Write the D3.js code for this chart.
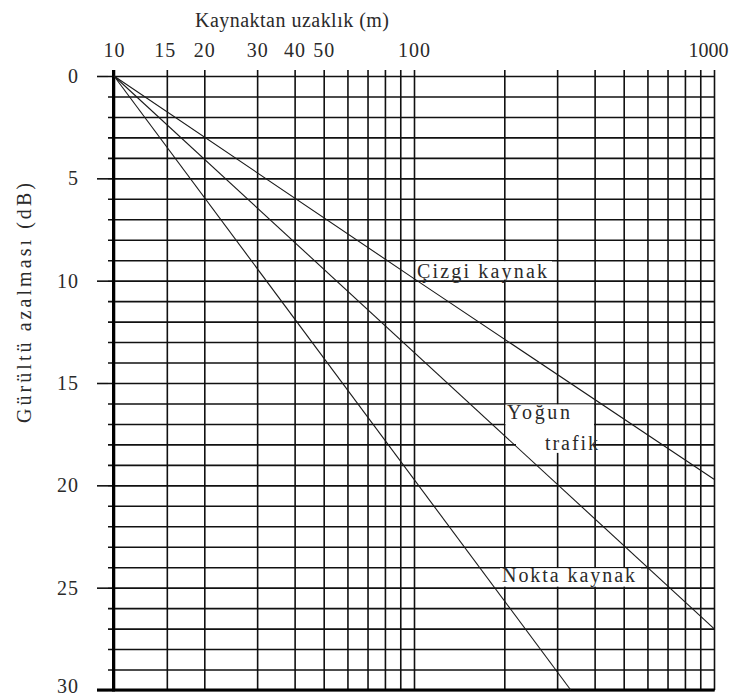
<!DOCTYPE html>
<html>
<head>
<meta charset="utf-8">
<script src="https://cdn.jsdelivr.net/npm/d3@7"></script>
<style>
  html, body { margin: 0; padding: 0; background: #fff; }
  svg { display: block; }
</style>
</head>
<body>
<svg id="chart" width="730" height="699"></svg>
<script>
// Distance (m) grid values on the logarithmic axis and the ones that carry labels
const xGrid = [10, 15, 20, 30, 40, 50, 60, 70, 80, 90, 100,
               200, 300, 400, 500, 600, 700, 800, 900, 1000];
const xTickLabels = [10, 15, 20, 30, 40, 50, 100, 1000];

// Attenuation (dB) grid: one line per dB, labelled every 5 dB
const yGrid = d3.range(0, 31);
const yTickLabels = [0, 5, 10, 15, 20, 25, 30];

// Attenuation curves: [distance m, attenuation dB]
const lineSource   = [[10, 0], [100, 9.9], [1000, 19.7]];  // Çizgi kaynak
const heavyTraffic = [[10, 0], [1000, 27]];                // Yoğun trafik
const pointSource  = [[10, 0], [333, 30]];                 // Nokta kaynak

const FONT = "'Liberation Serif', 'DejaVu Serif', serif";
const INK = "#2a2a2a";

const svg = d3.select("#chart");

const x = d3.scaleLog().domain([10, 1000]).range([114, 714]);
const y = d3.scaleLinear().domain([0, 30]).range([76, 690]);

const frameTop = 70, frameBottom = 690, frameLeft = 113.5, frameRight = 714;

// Vertical grid lines and top distance labels
const gx = svg.append("g")
  .attr("transform", `translate(0,${frameTop})`)
  .call(d3.axisTop(x)
    .tickValues(xGrid)
    .tickSize(-(frameBottom - frameTop))
    .tickPadding(13)
    .tickFormat(d => xTickLabels.includes(d) ? d : ""));
gx.select(".domain").remove();
gx.selectAll(".tick line").attr("stroke", "#111").attr("stroke-width", 1.6);
gx.selectAll(".tick text")
  .attr("font-size", 20).attr("fill", INK).attr("font-family", FONT)
  .attr("letter-spacing", d => d === 1000 ? 0 : 1)
  .attr("dx", d => d === 1000 ? -6 : (d === 15 ? -2 : 0));

// Horizontal grid lines, one per dB (short tick to the left of the frame)
const gyMinor = svg.append("g")
  .attr("transform", "translate(108,0)")
  .call(d3.axisLeft(y)
    .tickValues(yGrid)
    .tickSize(-(frameRight - 108))
    .tickFormat(""));
gyMinor.select(".domain").remove();
gyMinor.selectAll(".tick line").attr("stroke", "#111").attr("stroke-width", 1.6);

// Longer ticks and labels every 5 dB
const gyMajor = svg.append("g")
  .attr("transform", "translate(108,0)")
  .call(d3.axisLeft(y)
    .tickValues(yTickLabels)
    .tickSize(11)
    .tickPadding(18));
gyMajor.select(".domain").remove();
gyMajor.selectAll(".tick line").attr("stroke", "#111").attr("stroke-width", 1.6);
gyMajor.selectAll(".tick text")
  .attr("font-size", 20).attr("fill", INK).attr("font-family", FONT)
  .attr("letter-spacing", 1)
  .attr("dy", d => d === 30 ? "0.12em" : "0.32em");

// Heavy left and bottom frame lines
svg.append("line")
  .attr("x1", frameLeft).attr("x2", frameLeft).attr("y1", frameTop).attr("y2", frameBottom + 1.5)
  .attr("stroke", "#000").attr("stroke-width", 3);
svg.append("line")
  .attr("x1", 97).attr("x2", frameRight + 0.8).attr("y1", y(30)).attr("y2", y(30))
  .attr("stroke", "#000").attr("stroke-width", 3);

// White backgrounds behind the curve labels
const boxes = svg.append("g").attr("fill", "#fff");
boxes.append("rect").attr("x", 416).attr("y", y(9) + 1).attr("width", 136).attr("height", y(10) - y(9) - 2);
boxes.append("rect").attr("x", 500).attr("y", y(24) + 1).attr("width", 141).attr("height", y(25) - y(24) - 2);
boxes.append("rect").attr("x", 505.5).attr("y", y(16) + 1).attr("width", 88.5).attr("height", y(17) - y(16) - 1);
boxes.append("rect").attr("x", 505.5).attr("y", y(17) - 1).attr("width", 88.5).attr("height", y(18) - y(17));
boxes.append("rect").attr("x", 516).attr("y", y(18) - 1.5).attr("width", 78).attr("height", 10);

// Attenuation curves
const line = d3.line().x(d => x(d[0])).y(d => y(d[1]));
const curves = svg.append("g").attr("fill", "none").attr("stroke", "#1a1a1a").attr("stroke-width", 1.1);
[lineSource, heavyTraffic, pointSource].forEach(s => curves.append("path").attr("d", line(s)));

// Curve labels
const label = (t, tx, ty, len) => svg.append("text")
  .attr("x", tx).attr("y", ty).attr("font-size", 20).attr("fill", INK)
  .attr("font-family", FONT)
  .attr("textLength", len).attr("lengthAdjust", "spacing").text(t);
label("Çizgi kaynak", 417, 278, 130);
label("Yoğun", 507, 419, 63);
label("trafik", 545, 450, 53);
label("Nokta kaynak", 502, 582, 133);

// Axis titles
svg.append("text")
  .attr("x", 195).attr("y", 27).attr("font-size", 20).attr("fill", INK)
  .attr("font-family", FONT)
  .attr("textLength", 194).attr("lengthAdjust", "spacing")
  .text("Kaynaktan uzaklık (m)");
svg.append("text")
  .attr("transform", "translate(31,423) rotate(-90)")
  .attr("font-size", 20).attr("fill", INK)
  .attr("font-family", FONT)
  .attr("textLength", 240).attr("lengthAdjust", "spacing")
  .text("Gürültü azalması (dB)");
</script>
</body>
</html>
